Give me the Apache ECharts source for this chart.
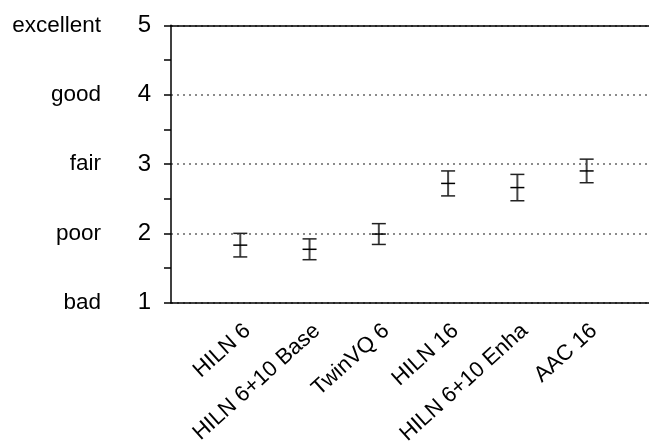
<!DOCTYPE html>
<html>
<head>
<meta charset="utf-8">
<script src="https://cdn.jsdelivr.net/npm/echarts@6/dist/echarts.min.js"></script>
<style>
html,body{margin:0;padding:0;background:#fff;}
#chart{width:649px;height:448px;}
</style>
</head>
<body>
<div id="chart"></div>
<script>
// ---- data ----
const categories = ['HILN 6', 'HILN 6+10 Base', 'TwinVQ 6', 'HILN 16', 'HILN 6+10 Enha', 'AAC 16'];
const means = [1.83, 1.77, 1.99, 2.72, 2.66, 2.90];
const halfCI = [0.17, 0.15, 0.15, 0.18, 0.19, 0.17];
const yTickValues = [1, 2, 3, 4, 5];
const yTickWords = ['bad', 'poor', 'fair', 'good', 'excellent'];

const FONT = '"Liberation Sans", Arial, sans-serif';
const chart = echarts.init(document.getElementById('chart'), null, {renderer: 'canvas'});

const seriesData = categories.map((c, i) => [i + 1, means[i], halfCI[i]]);

chart.setOption({
  animation: false,
  backgroundColor: '#fff',
  grid: {left: 171, right: 0, top: 25.3, bottom: 145.3},
  xAxis: [{
    type: 'value', min: 0, max: 6.9, interval: 1,
    axisLine: {show: true, lineStyle: {color: '#000', width: 1.5}},
    axisTick: {show: false},
    splitLine: {show: false},
    axisLabel: {
      rotate: 42, margin: 17, fontSize: 22, fontFamily: FONT, color: '#000',
      align: 'right', verticalAlign: 'top',
      showMaxLabel: false, showMinLabel: false,
      formatter: v => (Number.isInteger(v) && categories[v - 1]) ? categories[v - 1] : ''
    }
  }, {
    type: 'value', position: 'top', min: 0, max: 6.9,
    axisLine: {show: true, onZero: false, lineStyle: {color: '#000', width: 1.5}},
    axisTick: {show: false}, axisLabel: {show: false}, splitLine: {show: false}
  }],
  yAxis: [{
    type: 'value', min: 1, max: 5, interval: 0.5,
    axisLine: {show: true, lineStyle: {color: '#000', width: 1.5}},
    axisTick: {show: true, length: 7, inside: false, lineStyle: {color: '#000', width: 1.5}},
    splitLine: {show: false},
    axisLabel: {
      margin: 20,
      formatter: v => {
        const k = yTickValues.indexOf(v);
        if (k < 0) return '';
        return '{w|' + yTickWords[k] + '}{n|' + v + '}';
      },
      rich: {
        w: {width: 101, align: 'right', fontSize: 22.5, fontFamily: FONT, color: '#000'},
        n: {width: 50, align: 'right', fontSize: 24, fontFamily: FONT, color: '#000'}
      }
    }
  }, {
    type: 'value', min: 1, max: 5, interval: 1, position: 'left',
    axisLine: {show: false}, axisTick: {show: false}, axisLabel: {show: false},
    splitLine: {show: true, lineStyle: {color: '#666', width: 1.5, type: [2, 4]}}
  }],
  series: [{
    type: 'custom',
    xAxisIndex: 0, yAxisIndex: 0,
    data: seriesData,
    renderItem: (params, api) => {
      const x = api.value(0), m = api.value(1), e = api.value(2);
      const pm = api.coord([x, m]);
      const ph = api.coord([x, m + e]);
      const pl = api.coord([x, m - e]);
      const hw = 7;
      return {
        type: 'group',
        children: [
          {type: 'line', shape: {x1: pm[0], y1: ph[1], x2: pm[0], y2: pl[1]}, style: {stroke: '#444', lineWidth: 2}},
          {type: 'line', shape: {x1: pm[0] - hw, y1: ph[1], x2: pm[0] + hw, y2: ph[1]}, style: {stroke: '#222', lineWidth: 1.5}},
          {type: 'line', shape: {x1: pm[0] - hw, y1: pl[1], x2: pm[0] + hw, y2: pl[1]}, style: {stroke: '#222', lineWidth: 1.5}},
          {type: 'line', shape: {x1: pm[0] - hw, y1: pm[1], x2: pm[0] + hw, y2: pm[1]}, style: {stroke: '#000', lineWidth: 1.5}}
        ]
      };
    }
  }]
});
</script>
</body>
</html>
